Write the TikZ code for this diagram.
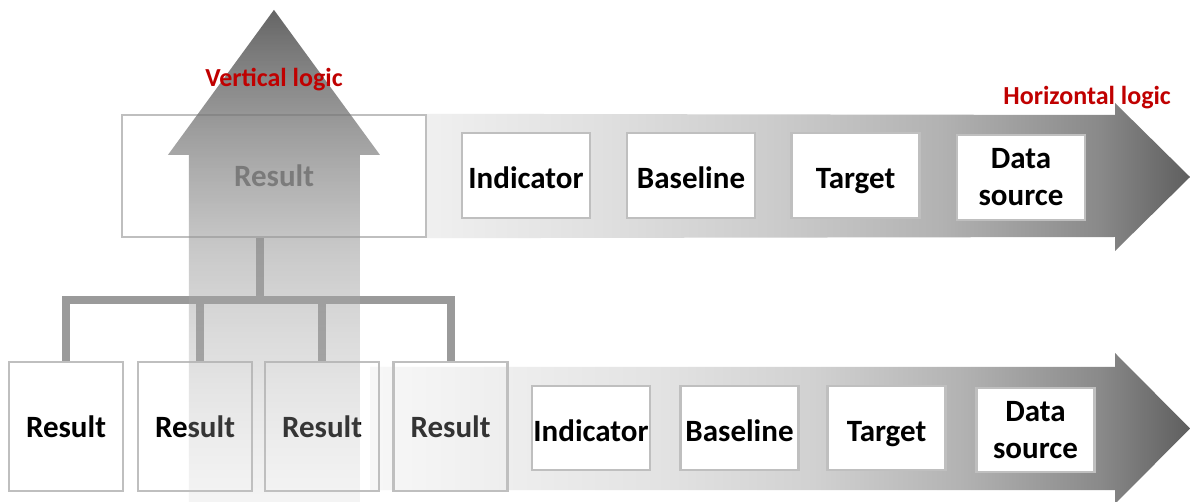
\documentclass[tikz,border=0pt]{standalone}
\usepackage{fontspec}
\setmainfont{Carlito}
\usetikzlibrary{fadings}

\definecolor{boxline}{HTML}{BFBFBF}
\definecolor{treeline}{HTML}{9A9A9A}
\definecolor{logicred}{HTML}{C00000}
\definecolor{softtext}{HTML}{666666}
\definecolor{darktext}{HTML}{333333}

% left-to-right grey ramps of the two horizontal arrows (25bp..75bp spans the path)
\pgfdeclarehorizontalshading{uppershade}{100bp}{%
  rgb(0bp)=(0.94,0.94,0.94); rgb(25bp)=(0.94,0.94,0.94);
  rgb(36bp)=(0.88,0.88,0.88); rgb(47.5bp)=(0.80,0.80,0.80);
  rgb(58.5bp)=(0.70,0.70,0.70); rgb(69bp)=(0.54,0.54,0.54);
  rgb(75bp)=(0.37,0.37,0.37); rgb(100bp)=(0.37,0.37,0.37)}
\pgfdeclarehorizontalshading{lowershade}{100bp}{%
  rgb(0bp)=(0.97,0.97,0.97); rgb(25bp)=(0.97,0.97,0.97);
  rgb(34bp)=(0.93,0.93,0.93); rgb(42.5bp)=(0.89,0.89,0.89);
  rgb(52bp)=(0.82,0.82,0.82); rgb(61bp)=(0.70,0.70,0.70);
  rgb(69.5bp)=(0.54,0.54,0.54);
  rgb(75bp)=(0.37,0.37,0.37); rgb(100bp)=(0.37,0.37,0.37)}
% bottom-to-top ramp of the upward arrow
\pgfdeclareverticalshading{risingshade}{100bp}{%
  rgb(0bp)=(0.78,0.78,0.78); rgb(25bp)=(0.78,0.78,0.78);
  rgb(50bp)=(0.62,0.62,0.62);
  rgb(75bp)=(0.33,0.33,0.33); rgb(100bp)=(0.33,0.33,0.33)}
\tikzfading[name=risingfade, top color=transparent!10,
  middle color=transparent!58, bottom color=transparent!82]

\newcommand\cellfont{\fontsize{31}{37}\selectfont\bfseries}
\newcommand\tagfont{\fontsize{26}{30}\selectfont\bfseries}

\begin{document}
\begin{tikzpicture}[x=1pt,y=-1pt,
  framed/.style={draw=boxline, line width=2.4pt, inner sep=0pt,
    font=\cellfont, align=center},
  upcell/.style={framed, fill=white, minimum width=128pt, minimum height=85pt},
  lowcell/.style={framed, fill=white, minimum width=118pt, minimum height=84pt},
  oneline/.style={text height=30pt, text depth=3pt},
  twoline/.style={yshift=-2pt},
  resbox/.style={framed, minimum width=114pt, minimum height=129pt},
  tree/.style={draw=treeline, line width=8pt, line join=miter},
  tag/.style={text=logicred, font=\tagfont, inner sep=0pt}]

\clip (0,0) rectangle (1191,502);
\fill[white] (0,0) rectangle (1191,502);

% parent result box
\node[framed, minimum width=304pt, minimum height=122pt, text=softtext]
  (res0) at (274,176) {Result};

% horizontal arrows
\shade[shading=uppershade] (res0.north east) -- (1115,115) -- (1115,103)
  -- (1190,177) -- (1115,251) -- (1115,237) -- (res0.south east) -- cycle;
\shade[shading=lowershade] (370,367) -- (1115,367) -- (1115,353)
  -- (1190,428.5) -- (1115,504) -- (1115,490) -- (370,490) -- cycle;

% upper row
\node[upcell, oneline] (ind1) at (526,175.5) {Indicator};
\node[upcell, oneline] (bas1) at (691,175.5) {Baseline};
\node[upcell, oneline] (tar1) at (855.5,175.5) {Target};
\node[upcell, twoline] (dat1) at (1021,175.5) {Data\\source};

% lower row
\node[lowcell, oneline] (ind2) at (591,428) {Indicator};
\node[lowcell, oneline] (bas2) at (739.5,428) {Baseline};
\node[lowcell, oneline] (tar2) at (886.5,428) {Target};
\node[lowcell, twoline] (dat2) at (1035.5,428) {Data\\source};

% child result boxes
\node[resbox] (r1) at (66,426.5) {Result};
\node[resbox] (r2) at (195,426.5) {Result};
\node[resbox] (r3) at (322,426.5) {Result};
\node[resbox, text=darktext] (r4) at (450.5,426.5) {Result};

% tree connectors
\coordinate (hub) at (260,300);
\draw[tree] (res0.south -| hub) -- (hub);
\draw[tree] (r1.north) |- (hub) -| (r4.north);
\draw[tree] ([xshift=5pt]r2.north) -- ([xshift=5pt]r2.north |- hub);
\draw[tree] (r3.north) -- (r3.north |- hub);

% upward arrow laid over the tree
\shade[shading=risingshade, path fading=risingfade]
  (274,10) -- (380,155) -- (360,155) -- (360,502) -- (189,502)
  -- (189,155) -- (168,155) -- cycle;

% labels
\node[tag, anchor=base] (vtag) at (274,87) {Vertical logic};
\node[tag, anchor=base east] (htag) at (1171,105) {Horizontal logic};
\end{tikzpicture}
\end{document}
